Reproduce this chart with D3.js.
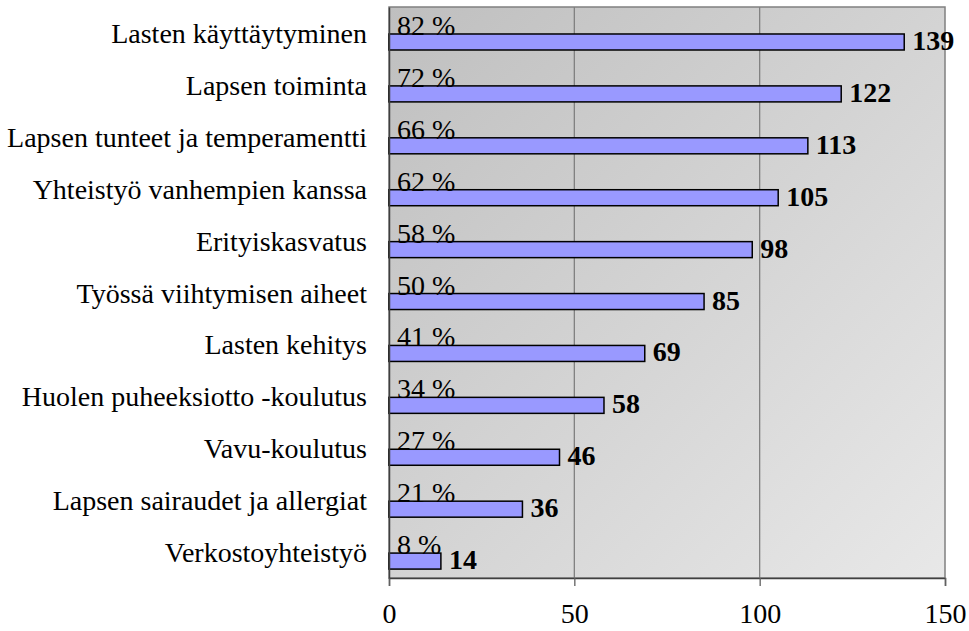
<!DOCTYPE html>
<html lang="fi">
<head>
<meta charset="utf-8" />
<title>Koulutustarpeet</title>
<script src="https://cdn.jsdelivr.net/npm/d3@7"></script>
<style>
  body { margin: 0; background: #fff; }
  svg { display: block; font-family: "Liberation Serif", "Times New Roman", serif; }
</style>
</head>
<body>
<svg id="chart" width="969" height="631"></svg>
<script>
// data
const categories = [
  "Lasten käyttäytyminen",
  "Lapsen toiminta",
  "Lapsen tunteet ja temperamentti",
  "Yhteistyö vanhempien kanssa",
  "Erityiskasvatus",
  "Työssä viihtymisen aiheet",
  "Lasten kehitys",
  "Huolen puheeksiotto -koulutus",
  "Vavu-koulutus",
  "Lapsen sairaudet ja allergiat",
  "Verkostoyhteistyö"
];
const counts = [139, 122, 113, 105, 98, 85, 69, 58, 46, 36, 14];
const percents = [82, 72, 66, 62, 58, 50, 41, 34, 27, 21, 8];
const xTicks = [0, 50, 100, 150];

const svg = d3.select("#chart");
const margin = { top: 7, right: 24, bottom: 53, left: 389 };
const width = +svg.attr("width") - margin.left - margin.right;
const height = +svg.attr("height") - margin.top - margin.bottom;

const g = svg.append("g").attr("transform", `translate(${margin.left},${margin.top})`);

const x = d3.scaleLinear().domain([0, 150]).range([0, width]);
const y = d3.scaleBand().domain(categories).range([0, height]);
const bw = y.bandwidth();
const barH = 16;
const barOff = bw * 0.52; // bar sits in lower half of each band
const fontSize = 28;

// background gradient
const defs = svg.append("defs");
const grad = defs.append("linearGradient")
  .attr("id", "bg").attr("x1", "0").attr("y1", "0").attr("x2", "1").attr("y2", "1");
grad.append("stop").attr("offset", "0").attr("stop-color", "#bfbfbf");
grad.append("stop").attr("offset", "1").attr("stop-color", "#e8e8e8");

g.append("rect")
  .attr("width", width).attr("height", height)
  .attr("fill", "url(#bg)")
  .attr("stroke", "#808080").attr("stroke-width", 1.5);

// gridlines
g.selectAll(".grid")
  .data(xTicks.slice(1, -1))
  .enter().append("line")
  .attr("x1", d => x(d)).attr("x2", d => x(d))
  .attr("y1", 0).attr("y2", height)
  .attr("stroke", "#808080").attr("stroke-width", 1.3);

// bars
g.selectAll(".bar")
  .data(counts)
  .enter().append("rect")
  .attr("x", 0)
  .attr("y", (d, i) => y(categories[i]) + barOff)
  .attr("width", d => x(d))
  .attr("height", barH)
  .attr("fill", "#9999ff")
  .attr("stroke", "#000").attr("stroke-width", 1.5);

// percent labels
g.selectAll(".pct")
  .data(percents)
  .enter().append("text")
  .attr("x", 8)
  .attr("y", (d, i) => y(categories[i]) + barOff + 1)
  .attr("font-size", fontSize)
  .attr("fill", "#000")
  .text(d => d + " %");

// value labels
g.selectAll(".val")
  .data(counts)
  .enter().append("text")
  .attr("x", d => x(d) + 8)
  .attr("y", (d, i) => y(categories[i]) + barOff + barH)
  .attr("font-size", fontSize)
  .attr("font-weight", "bold")
  .text(d => d);

// axes
const xAxis = g.append("g")
  .attr("transform", `translate(0,${height})`)
  .call(d3.axisBottom(x).tickValues(xTicks).tickSize(8));
xAxis.select(".domain").attr("stroke", "#404040").attr("stroke-width", 1.5);
xAxis.selectAll(".tick line").attr("stroke", "#606060").attr("stroke-width", 1.3);
xAxis.selectAll("text")
  .attr("font-family", "Liberation Serif, serif")
  .attr("font-size", fontSize).attr("fill", "#000")
  .attr("y", 45).attr("dy", 0);

const yAxis = g.append("g")
  .call(d3.axisLeft(y).tickSize(0).tickPadding(22));
yAxis.select(".domain").attr("stroke", "#404040").attr("stroke-width", 1.5);
yAxis.selectAll(".tick text")
  .attr("font-family", "Liberation Serif, serif")
  .attr("font-size", fontSize).attr("fill", "#000")
  .attr("dy", 10);
</script>
</body>
</html>
